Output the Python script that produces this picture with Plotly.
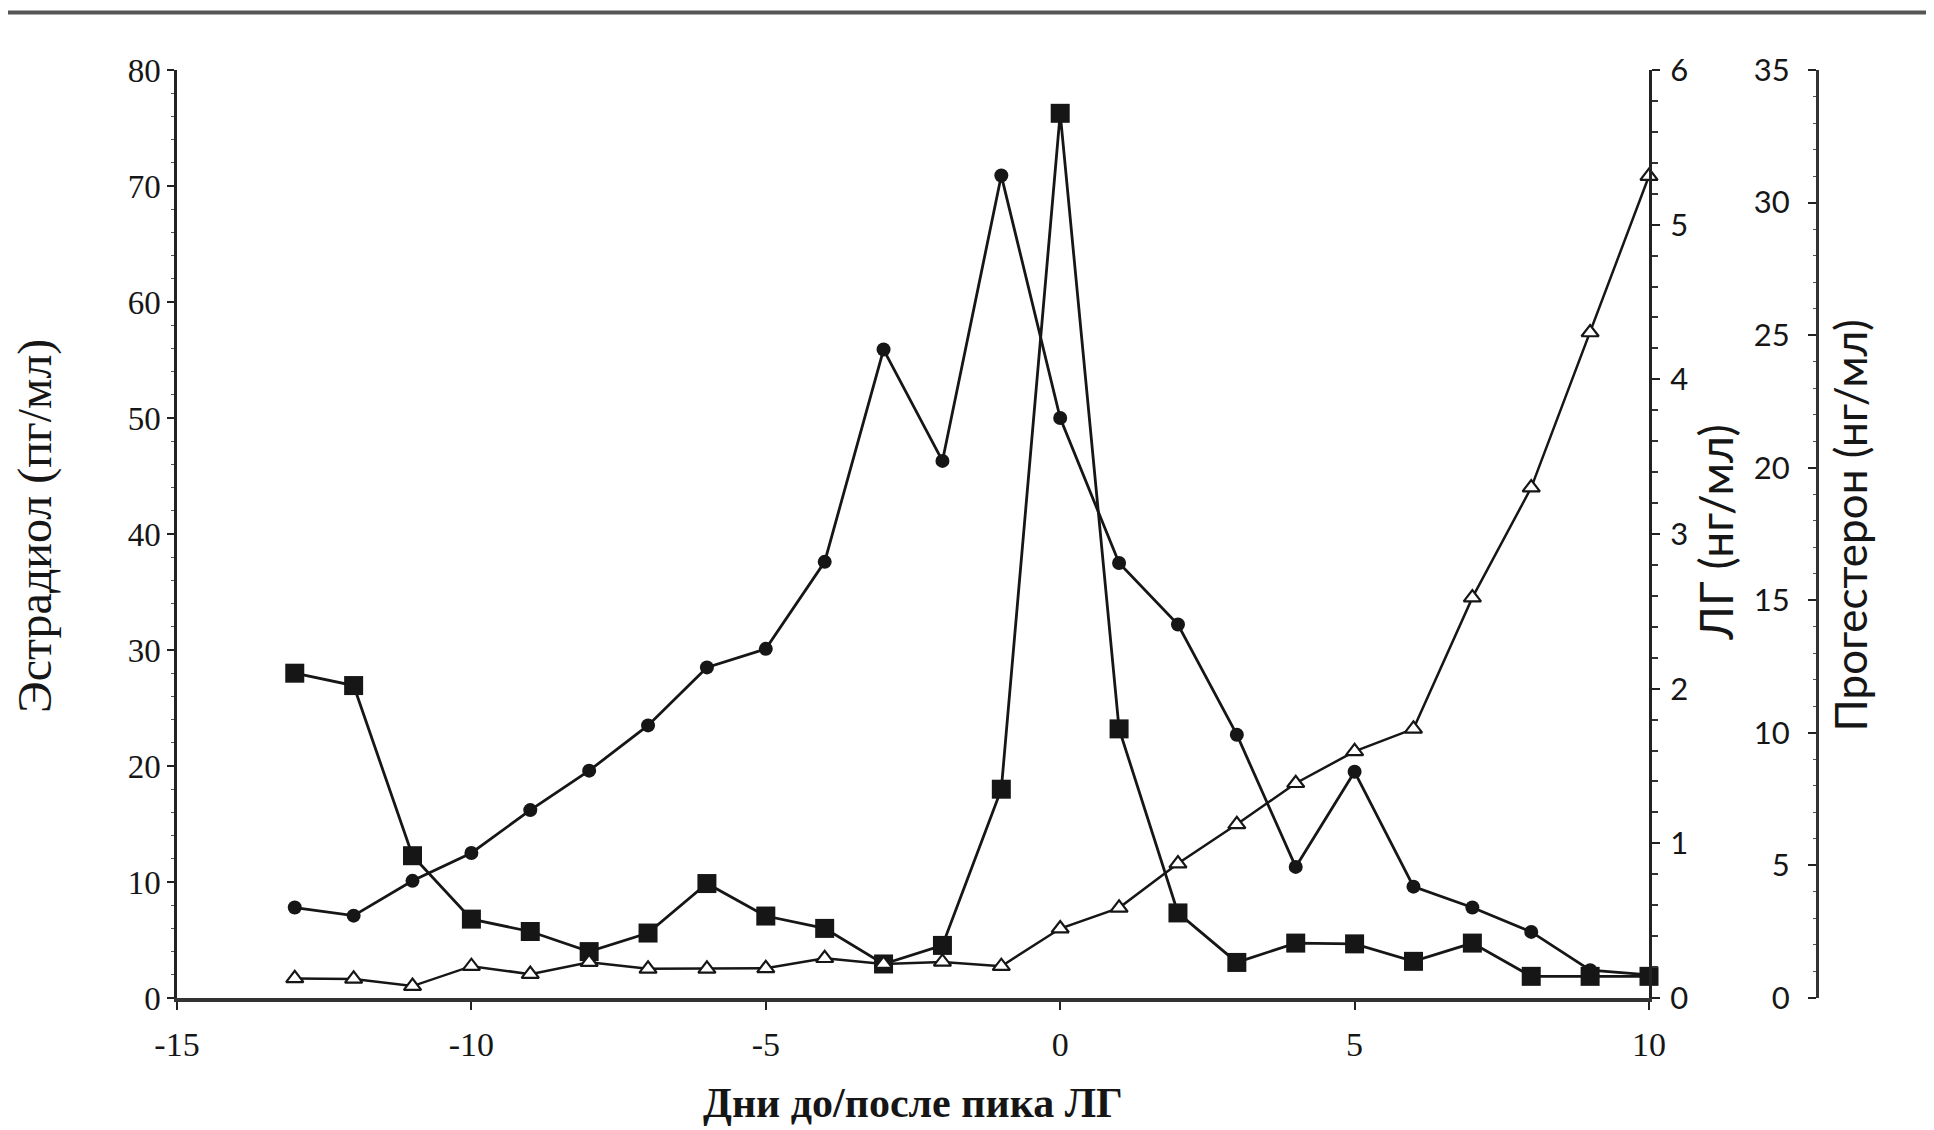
import plotly.graph_objects as go

# ---- data ----
days = list(range(-13, 11))

estradiol = [7.8, 7.1, 10.1, 12.5, 16.2, 19.6, 23.5, 28.5, 30.1, 37.6, 55.9, 46.3,
             70.9, 50.0, 37.5, 32.2, 22.7, 11.3, 19.5, 9.6, 7.8, 5.7, 2.4, 2.0]

lh = [2.10, 2.02, 0.92, 0.51, 0.43, 0.30, 0.42, 0.74, 0.53, 0.45, 0.22, 0.34,
      1.35, 5.72, 1.74, 0.55, 0.23, 0.355, 0.35, 0.237, 0.355, 0.14, 0.14, 0.14]

progesterone = [0.74, 0.72, 0.45, 1.2, 0.9, 1.35, 1.1, 1.1, 1.12, 1.5, 1.28, 1.36,
                1.2, 2.62, 3.4, 5.07, 6.55, 8.1, 9.3, 10.15, 15.1, 19.25, 25.1, 31.0]

x_ticks = [-15, -10, -5, 0, 5, 10]
x_tick_labels = ["-15", "-10", "-5", "0", "5", "10"]
y1_ticks = [0, 10, 20, 30, 40, 50, 60, 70, 80]
y2_ticks = [0, 1, 2, 3, 4, 5, 6]
y3_ticks = [0, 5, 10, 15, 20, 25, 30, 35]

x_title = "Дни до/после пика ЛГ"
y1_title = "Эстрадиол (пг/мл)"
y2_title = "ЛГ (нг/мл)"
y3_title = "Прогестерон (нг/мл)"

SERIF = "Liberation Serif, Times New Roman, serif"
SANS = "Lato, Open Sans, sans-serif"
INK = "#161616"

fig = go.Figure()

fig.add_trace(go.Scatter(
    x=days, y=estradiol, mode="lines+markers", yaxis="y",
    line=dict(color=INK, width=2.8),
    marker=dict(symbol="circle", size=14, color=INK),
    cliponaxis=False, showlegend=False))

fig.add_trace(go.Scatter(
    x=days, y=lh, mode="lines+markers", yaxis="y2",
    line=dict(color=INK, width=2.8),
    marker=dict(symbol="square", size=19, color=INK),
    cliponaxis=False, showlegend=False))

fig.add_trace(go.Scatter(
    x=days, y=progesterone, mode="lines+markers", yaxis="y3",
    line=dict(color=INK, width=2.5),
    marker=dict(symbol="triangle-up", size=15, color="white",
                line=dict(color=INK, width=2.2)),
    cliponaxis=False, showlegend=False))

xdom_end = 1472 / 1640

fig.update_layout(
    width=1934, height=1130,
    margin=dict(l=169, r=125, t=62, b=140),
    paper_bgcolor="white", plot_bgcolor="white",
    xaxis=dict(
        domain=[0, xdom_end], range=[-15, 10],
        tickvals=x_ticks, ticktext=x_tick_labels,
        showgrid=False, zeroline=False,
        showline=True, linecolor="#333", linewidth=4,
        ticks="outside", ticklen=8, tickwidth=2, tickcolor="#222",
        ticklabelstandoff=5,
        tickfont=dict(family=SERIF, size=34, color=INK)),
    yaxis=dict(
        range=[0, 80], tickvals=y1_ticks,
        showgrid=False, zeroline=False,
        showline=True, linecolor="#222", linewidth=2.5,
        ticks="outside", ticklen=7, tickwidth=2, tickcolor="#222",
        ticklabelstandoff=0,
        minor=dict(dtick=2, ticks="outside", ticklen=3, tickwidth=1, tickcolor="#555"),
        tickfont=dict(family=SERIF, size=33, color=INK)),
    yaxis2=dict(
        overlaying="y", side="right", anchor="x",
        range=[0, 6], tickvals=y2_ticks,
        showgrid=False, zeroline=False,
        showline=True, linecolor="#222", linewidth=3,
        ticks="outside", ticklen=8, tickwidth=2, tickcolor="#222",
        ticklabelstandoff=4,
        minor=dict(dtick=0.2, ticks="outside", ticklen=6, tickwidth=2, tickcolor="#333"),
        tickfont=dict(family=SANS, size=31, color=INK)),
    yaxis3=dict(
        overlaying="y", side="left", anchor="free", position=1.0,
        range=[0, 35], tickvals=y3_ticks,
        showgrid=False, zeroline=False,
        showline=True, linecolor="#333", linewidth=3,
        ticks="outside", ticklen=8, tickwidth=2, tickcolor="#222",
        ticklabelstandoff=12,
        minor=dict(dtick=1, ticks="outside", ticklen=3, tickwidth=1, tickcolor="#555"),
        tickfont=dict(family=SANS, size=31, color=INK)),
)

annotations = [
    dict(text=y1_title, xref="paper", yref="paper", x=-0.087, y=0.509,
         textangle=-90, showarrow=False, xanchor="center", yanchor="middle",
         font=dict(family=SERIF, size=48, color=INK)),
    dict(text="<b>" + x_title + "</b>", xref="paper", yref="paper", x=0.449, y=-0.113,
         showarrow=False, xanchor="center", yanchor="middle",
         font=dict(family=SERIF, size=42, color=INK)),
    dict(text=y2_title, xref="paper", yref="paper", x=0.938, y=0.502,
         textangle=-90, showarrow=False, xanchor="center", yanchor="middle",
         font=dict(family=SANS, size=46, color=INK)),
    dict(text=y3_title, xref="paper", yref="paper", x=1.02, y=0.509,
         textangle=-90, showarrow=False, xanchor="center", yanchor="middle",
         font=dict(family=SANS, size=44, color=INK)),
]
fig.update_layout(annotations=annotations)

# scanned page border line along the top edge
fig.add_shape(type="line", xref="paper", yref="paper",
              x0=-0.11, x1=1.08, y0=1.062, y1=1.062,
              line=dict(color="#555", width=4))

fig.write_html("out.html")
